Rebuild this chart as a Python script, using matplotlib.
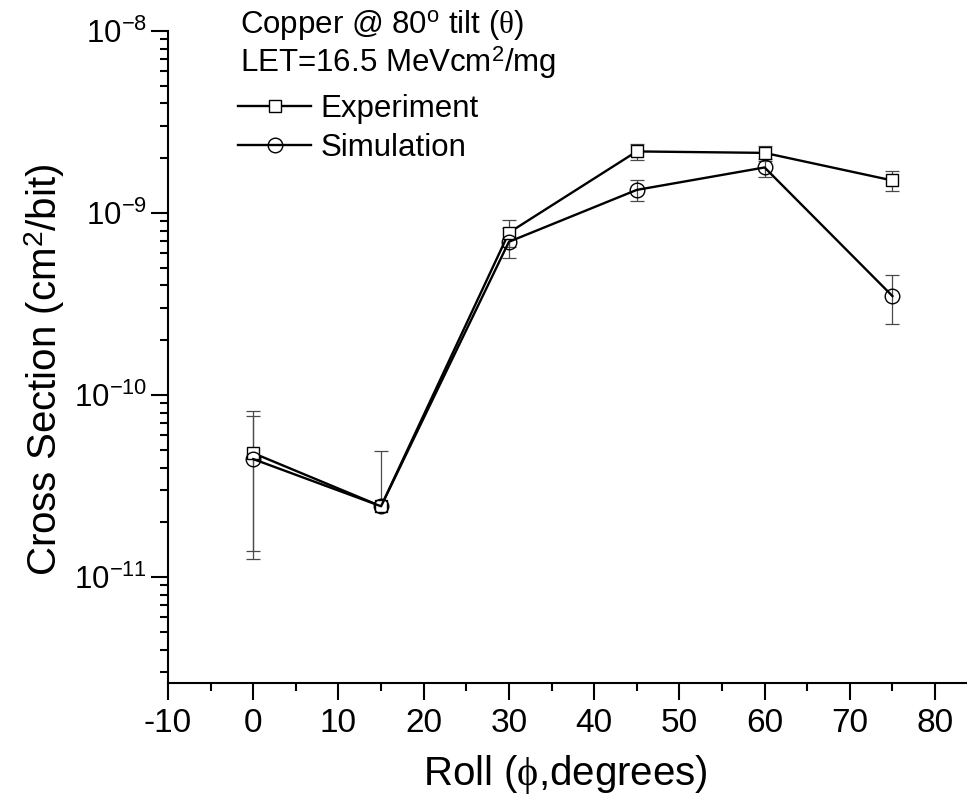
import matplotlib
matplotlib.use("Agg")
import matplotlib.pyplot as plt
from matplotlib.ticker import LogLocator, MultipleLocator, FixedLocator, LogFormatterMathtext, NullFormatter
from matplotlib.lines import Line2D

plt.rcParams['font.family'] = ['Liberation Sans', 'DejaVu Sans']
plt.rcParams['mathtext.fontset'] = 'custom'
plt.rcParams['mathtext.rm'] = 'Liberation Sans'
plt.rcParams['mathtext.it'] = 'Liberation Serif'
plt.rcParams['mathtext.bf'] = 'Liberation Sans:bold'
plt.rcParams['axes.unicode_minus'] = False

# ---- data ----
roll = [0, 15, 30, 45, 60, 75]
experiment = [4.8e-11, 2.45e-11, 7.8e-10, 2.18e-9, 2.14e-9, 1.51e-9]
exp_err_lo = [3.4e-11, 0.0, 1.3e-10, 2.2e-10, 2.0e-10, 1.9e-10]
exp_err_hi = [3.4e-11, 2.45e-11, 1.3e-10, 2.2e-10, 2.0e-10, 1.9e-10]
simulation = [4.45e-11, 2.45e-11, 6.95e-10, 1.34e-9, 1.78e-9, 3.5e-10]
sim_err = [3.2e-11, 0.0, 1.3e-10, 1.7e-10, 2.1e-10, 1.05e-10]

series_labels = ["Experiment", "Simulation"]
title_lines = [r"Copper @ 80$^{\rm o}$ tilt ($\theta$)", r"LET=16.5 MeVcm$^{\rm 2}$/mg"]
xlabel = r"Roll ($\phi$,degrees)"
ylabel = r"Cross Section (cm$^{\rm 2}$/bit)"
xticks = [-10, 0, 10, 20, 30, 40, 50, 60, 70, 80]
yticks = [1e-11, 1e-10, 1e-9, 1e-8]

W, H = 967, 801
fig = plt.figure(figsize=(W / 100, H / 100), dpi=100)
ax = fig.add_axes([168 / W, 118 / H, (W - 168) / W, 652 / H])

ax.set_yscale('log')
ax.set_xlim(-10, 83.75)
ax.set_ylim(2.62e-12, 1e-8)

ecol = '#4a4a4a'
ax.errorbar(roll, experiment, yerr=[exp_err_lo, exp_err_hi], fmt='none',
            ecolor=ecol, elinewidth=0.9, capsize=4.7, capthick=0.9, zorder=2)
ax.errorbar(roll, simulation, yerr=sim_err, fmt='none',
            ecolor=ecol, elinewidth=0.9, capsize=4.7, capthick=0.9, zorder=2)

ax.plot(roll, experiment, color='black', lw=1.7, marker='s', ms=9,
        mfc='white', mec='black', mew=1.0, zorder=3)
ax.plot(roll, simulation, color='black', lw=1.7, marker='o', ms=10.5,
        mfc='none', mec='black', mew=1.0, zorder=4)

# spines
for s in ['top', 'right']:
    ax.spines[s].set_visible(False)
for s in ['left', 'bottom']:
    ax.spines[s].set_linewidth(1.5)

ax.set_xticks(xticks)
ax.xaxis.set_minor_locator(MultipleLocator(5))
ax.yaxis.set_major_locator(FixedLocator(yticks))
ax.yaxis.set_minor_locator(LogLocator(base=10, subs=range(2, 10), numticks=50))
ax.yaxis.set_major_formatter(LogFormatterMathtext())
ax.yaxis.set_minor_formatter(NullFormatter())
ax.tick_params(which='major', direction='out', length=12, width=1.5)
ax.tick_params(which='minor', direction='out', length=6, width=1.5)
ax.tick_params(axis='x', which='major', pad=6, labelsize=24)
ax.tick_params(axis='y', which='major', pad=3, labelsize=22.5)

ax.set_xlabel(xlabel, fontsize=29)
ax.set_ylabel(ylabel, fontsize=29)
ax.xaxis.set_label_coords(0.497, -0.107)
ax.yaxis.set_label_coords(-0.126, 0.48)

# header text
fig.text(240 / W, 1 - 33 / H, title_lines[0], fontsize=22.5, va='baseline', ha='left')
fig.text(240 / W, 1 - 72 / H, title_lines[1], fontsize=22.5, va='baseline', ha='left')

handles = [
    Line2D([], [], color='black', lw=1.7, marker='s', ms=9, mfc='white', mec='black', mew=1.0),
    Line2D([], [], color='black', lw=1.7, marker='o', ms=10.5, mfc='none', mec='black', mew=1.0),
]
fig.legend(handles, series_labels, loc='upper left', bbox_to_anchor=(238 / W, 1 - 94 / H),
           frameon=False, fontsize=22.5, borderpad=0, borderaxespad=0,
           handlelength=2.34, handletextpad=0.29, labelspacing=0.3)

fig.savefig('out.png', dpi=100)
